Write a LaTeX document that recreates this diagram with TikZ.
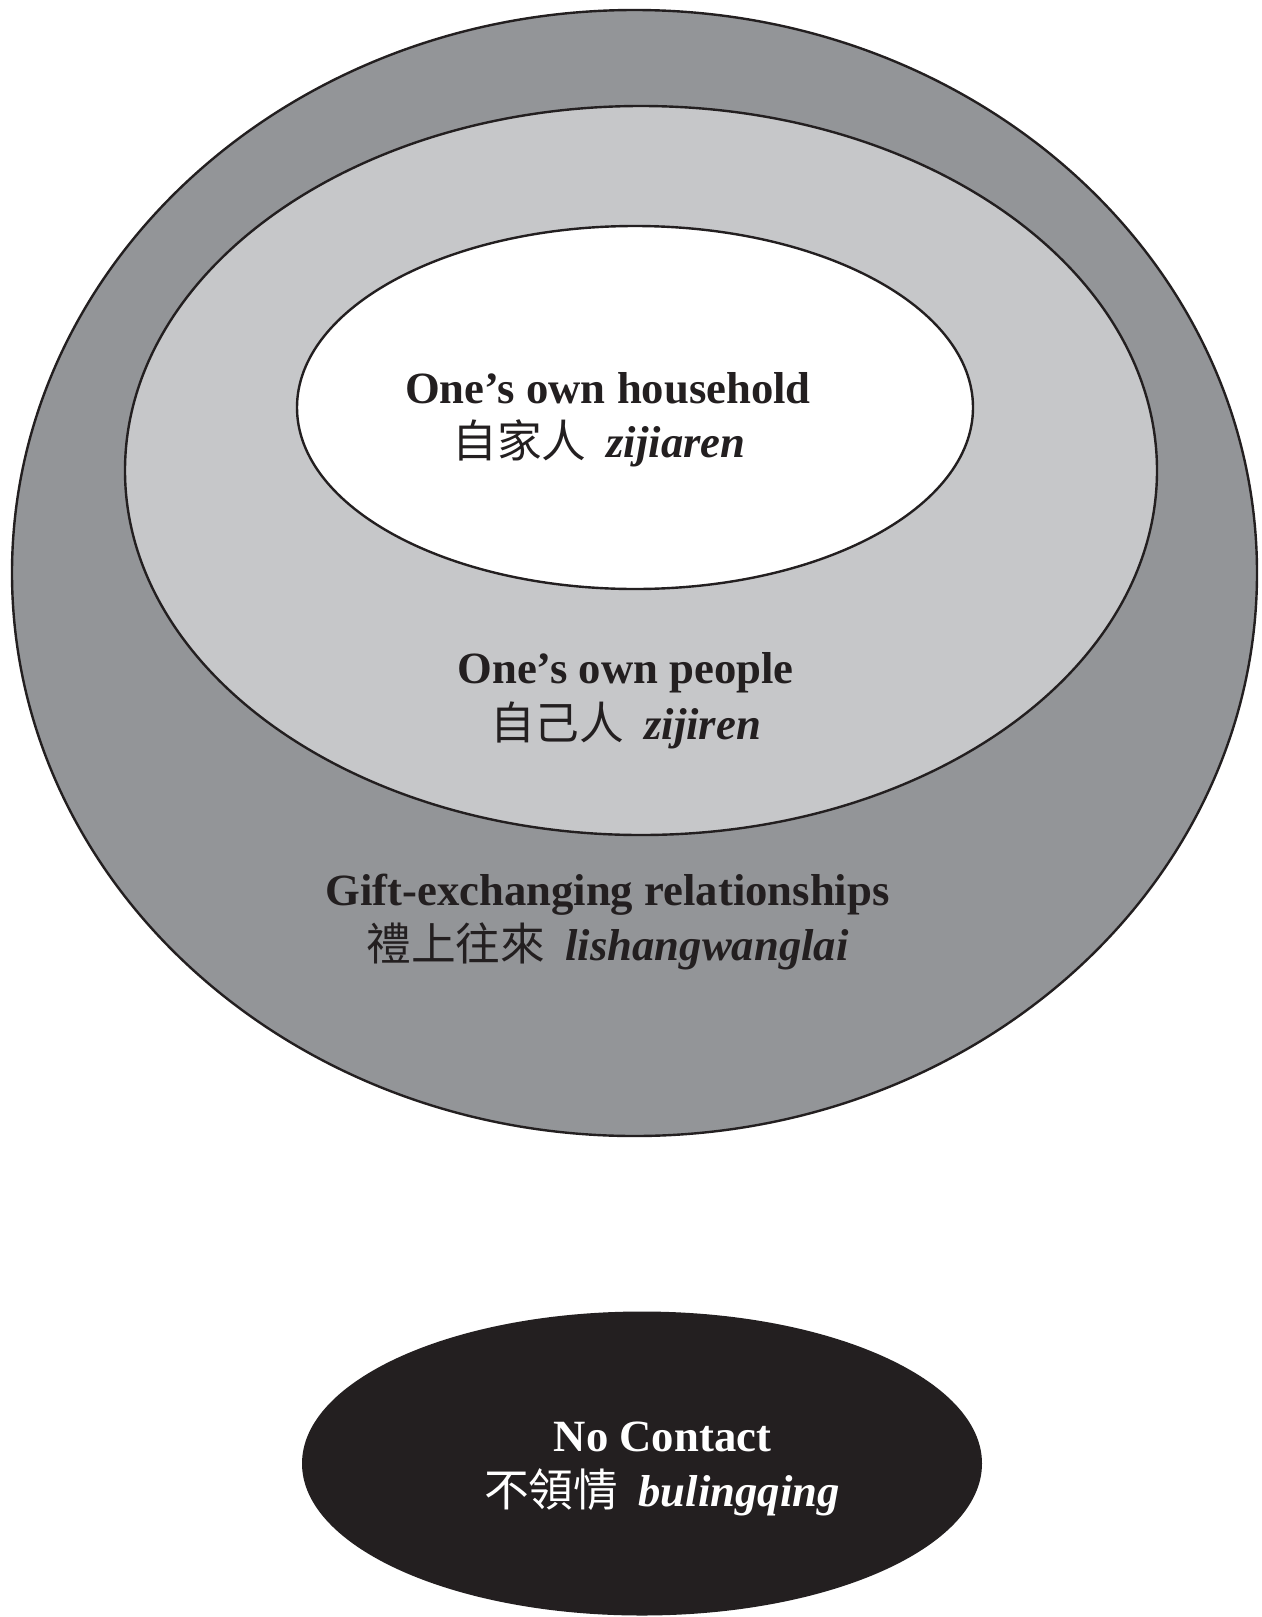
\documentclass[tikz,border=0pt]{standalone}
\usepackage{fontspec}
\setmainfont{Liberation Serif}
\newfontfamily\cjk{Noto Sans CJK TC}
\definecolor{ringdark}{HTML}{939598}
\definecolor{ringlight}{HTML}{C6C7C9}
\definecolor{inkblack}{HTML}{231F20}
\begin{document}
\begin{tikzpicture}[x=0.5pt,y=-0.5pt,
  ring/.style={draw=inkblack,line width=1.2pt},
  title/.style={inner sep=0pt,anchor=base,font=\fontsize{22.35pt}{26pt}\selectfont\bfseries,text=inkblack},
  sub/.style={inner sep=0pt,anchor=base,font=\fontsize{22.35pt}{26pt}\selectfont,text=inkblack}]
\useasboundingbox (0,0) rectangle (1262,1617);
\fill[white] (0,0) rectangle (1262,1617);
% rings
\draw[ring,fill=ringdark] (634.5,573) ellipse [x radius=311.25pt,y radius=281.5pt];
\draw[ring,fill=ringlight] (641,470.5) ellipse [x radius=258pt,y radius=182.25pt];
\draw[ring,fill=white] (635,407.5) ellipse [x radius=169pt,y radius=90.75pt];
\fill[inkblack] (642,1463.5) ellipse [x radius=170pt,y radius=76pt];
% labels
\node[title] (hh) at (608,403) {One’s own household};
\node[sub] (hhz) at (599,457) {{\cjk 自家人}\hspace{0.45em}\textbf{\textit{zijiaren}}};
\node[title] (pp) at (625.5,683) {One’s own people};
\node[sub] (ppz) at (625.5,739) {{\cjk 自己人}\hspace{0.45em}\textbf{\textit{zijiren}}};
\node[title] (gx) at (607.5,905) {Gift-exchanging relationships};
\node[sub] (gxz) at (607.5,960) {{\cjk 禮上往來}\hspace{0.45em}\textbf{\textit{lishangwanglai}}};
\node[title,text=white] (nc) at (662.5,1451) {No Contact};
\node[sub,text=white] (ncz) at (662,1506) {{\cjk 不領情}\hspace{0.45em}\textbf{\textit{bulingqing}}};
\end{tikzpicture}
\end{document}
